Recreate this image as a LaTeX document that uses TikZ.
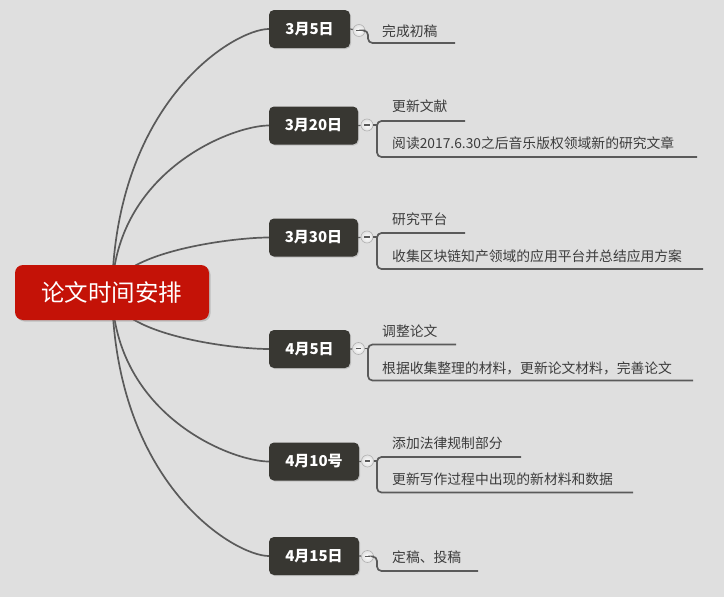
\documentclass[tikz,border=0pt]{standalone}
\usepackage{fontspec}
\setmainfont{Noto Sans CJK SC}
\usetikzlibrary{shadows}
\definecolor{paperc}{HTML}{DFDFDF}
\definecolor{rootred}{HTML}{C41207}
\definecolor{datec}{HTML}{383732}
\definecolor{linec}{HTML}{5A5A5A}
\definecolor{txtc}{HTML}{3C3C3C}
\pgfdeclarelayer{paper}
\pgfdeclarelayer{lines}
\pgfsetlayers{paper,lines,main}
\tikzset{
  rootbox/.style={fill=rootred, rounded corners=8pt, text=white, minimum width=194pt, minimum height=55pt,
    font=\fontsize{23.5}{26}\selectfont, drop shadow={opacity=0.35, shadow xshift=1.5pt, shadow yshift=-1.5pt}},
  datebox/.style={fill=datec, rounded corners=5pt, text=white, minimum height=38pt,
    font=\fontsize{15}{18}\selectfont\bfseries, inner sep=0pt,
    drop shadow={opacity=0.3, shadow xshift=1pt, shadow yshift=-1pt}},
  tog/.style={circle, minimum size=12pt, inner sep=0pt, draw=black!30, line width=0.6pt,
    inner color=white, outer color=black!12,
    path picture={\draw[line width=1.8pt, black!65] ([xshift=-2.6pt]path picture bounding box.center) -- ([xshift=2.6pt]path picture bounding box.center);}},
  leaf/.style={anchor=west, inner sep=0pt, text=txtc, font=\fontsize{13.8}{16}\selectfont},
  branch/.style={draw=linec, line width=1.7pt},
  conn/.style={draw=linec, line width=1.7pt, rounded corners=4.5pt},
  stub/.style={draw=linec, line width=1.2pt}
}
\begin{document}
\begin{tikzpicture}[x=1pt, y=-1pt]
\useasboundingbox (0,0) rectangle (724,597);
\begin{pgfonlayer}{paper}
\fill[paperc] (0,0) rectangle (724,597);
\end{pgfonlayer}

% root and date nodes
\node[rootbox] (root) at (112,292.5) {论文时间安排};
\node[datebox, minimum width=81pt] (d1) at (309.5,29) {3月5日};
\node[datebox, minimum width=89pt] (d2) at (313.5,125.5) {3月20日};
\node[datebox, minimum width=89pt] (d3) at (313.5,237.5) {3月30日};
\node[datebox, minimum width=81pt] (d4) at (309.5,349) {4月5日};
\node[datebox, minimum width=90pt] (d5) at (314,461.5) {4月10号};
\node[datebox, minimum width=90pt] (d6) at (314,556) {4月15日};

% curves from root
\begin{pgfonlayer}{lines}
\draw[branch] (root.center) .. controls (115,100) and (235,29) .. (d1.west);
\draw[branch] (root.center) .. controls (115,171) and (232,125.5) .. (d2.west);
\draw[branch] (root.center) .. controls (115,253) and (230,237.5) .. (d3.west);
\draw[branch] (root.center) .. controls (115,334) and (230,349) .. (d4.west);
\draw[branch] (root.center) .. controls (115,416) and (232,461.5) .. (d5.west);
\draw[branch] (root.center) .. controls (115,485) and (235,556) .. (d6.west);
\end{pgfonlayer}

% toggle circles
\node[tog] (c1) at (359,30.5) {};
\node[tog] (c2) at (367,125) {};
\node[tog] (c3) at (367,237) {};
\node[tog] (c4) at (358.5,348.5) {};
\node[tog] (c5) at (367.5,461) {};
\node[tog] (c6) at (367.5,556.5) {};
\begin{pgfonlayer}{lines}
\draw[stub] (d1.east) -- (c1);
\draw[stub] (d2.east) -- (c2);
\draw[stub] (d3.east) -- (c3);
\draw[stub] (d4.east) -- (c4);
\draw[stub] (d5.east) -- (c5);
\draw[stub] (d6.east) -- (c6);
\end{pgfonlayer}

% leaf texts
\node[leaf] (t1) at (382,31) {完成初稿};
\node[leaf] (t2a) at (392,106.5) {更新文献};
\node[leaf] (t2b) at (392,143) {阅读2017.6.30之后音乐版权领域新的研究文章};
\node[leaf] (t3a) at (392,219) {研究平台};
\node[leaf] (t3b) at (392,256) {收集区块链知产领域的应用平台并总结应用方案};
\node[leaf] (t4a) at (382,331.5) {调整论文};
\node[leaf] (t4b) at (382,368) {根据收集整理的材料，更新论文材料，完善论文};
\node[leaf] (t5a) at (392,443.5) {添加法律规制部分};
\node[leaf] (t5b) at (392,479.5) {更新写作过程中出现的新材料和数据};
\node[leaf] (t6) at (392,557) {定稿、投稿};

% junctions and underline ends
\coordinate (j2) at (377,125);
\coordinate (j3) at (377,237);
\coordinate (j4) at (368,348.5);
\coordinate (j5) at (377,461);
\coordinate (u1) at (455,43);
\coordinate (u2a) at (465,121);
\coordinate (u2b) at (697,157);
\coordinate (u3a) at (465,233);
\coordinate (u3b) at (703,269);
\coordinate (u4a) at (456,344.5);
\coordinate (u4b) at (693,380.5);
\coordinate (u5a) at (521,457);
\coordinate (u5b) at (633,492.5);
\coordinate (u6) at (478,571);

% connectors
\draw[conn] (c1.east) -- (368,30.5) |- (u1);
\draw[conn] (c2.east) -- (j2);
\draw[conn] (j2) |- (u2a);
\draw[conn] (j2) |- (u2b);
\draw[conn] (c3.east) -- (j3);
\draw[conn] (j3) |- (u3a);
\draw[conn] (j3) |- (u3b);
\draw[conn] (c4.east) -- (j4);
\draw[conn] (j4) |- (u4a);
\draw[conn] (j4) |- (u4b);
\draw[conn] (c5.east) -- (j5);
\draw[conn] (j5) |- (u5a);
\draw[conn] (j5) |- (u5b);
\draw[conn] (c6.east) -- (377,556.5) |- (u6);
\end{tikzpicture}
\end{document}
